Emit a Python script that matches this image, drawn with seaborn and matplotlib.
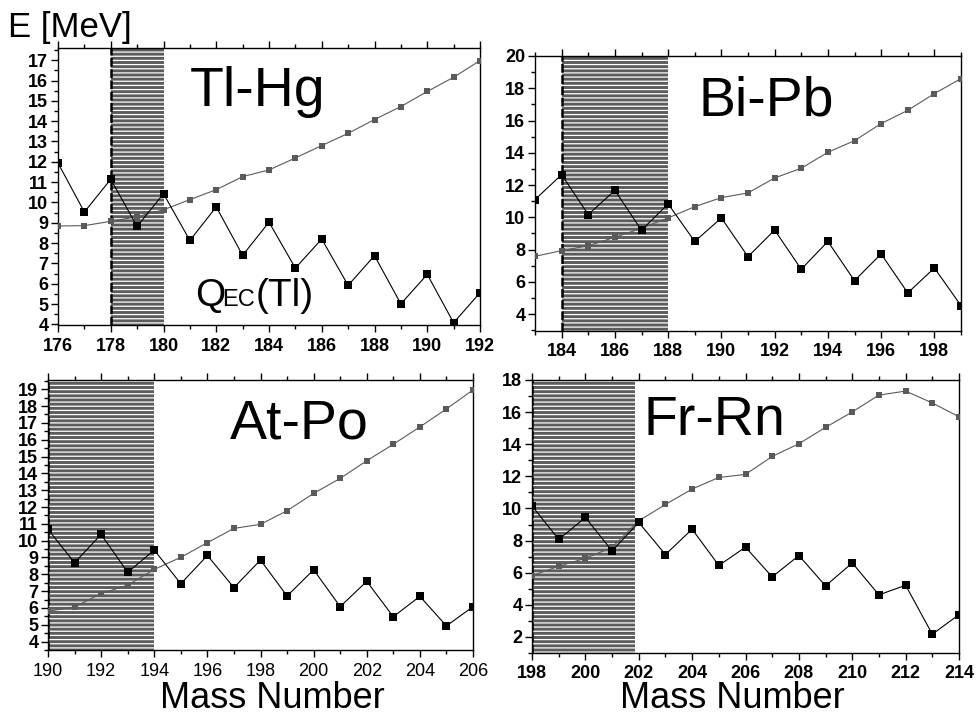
import pandas as pd
import seaborn as sns
import matplotlib.pyplot as plt
from matplotlib.ticker import MultipleLocator

sns.set_style("ticks")
plt.rcParams['font.family'] = ['Liberation Sans', 'DejaVu Sans']
plt.rcParams['hatch.linewidth'] = 0.9
plt.rcParams['text.color'] = 'black'
plt.rcParams['xtick.color'] = 'black'
plt.rcParams['ytick.color'] = 'black'

# mass numbers per chain
mass_tlhg = list(range(176, 193))
mass_bipb = list(range(183, 200))
mass_atpo = list(range(190, 207))
mass_frrn = list(range(198, 215))

# QEC of the odd element (black) and second curve (gray), MeV
qec_tl = [11.94, 9.53, 11.14, 8.82, 10.43, 8.13, 9.78, 7.40, 9.03, 6.77, 8.20, 5.92, 7.38, 5.01, 6.46, 4.08, 5.56]
e_hg = [8.84, 8.86, 9.07, 9.30, 9.64, 10.14, 10.63, 11.27, 11.60, 12.19, 12.80, 13.40, 14.08, 14.72, 15.46, 16.16, 16.98]

qec_bi = [11.10, 12.64, 10.17, 11.67, 9.20, 10.83, 8.50, 9.96, 7.56, 9.21, 6.78, 8.50, 6.07, 7.73, 5.31, 6.86, 4.52]
e_pb = [7.58, 7.93, 8.24, 8.76, 9.32, 9.96, 10.66, 11.22, 11.51, 12.44, 13.04, 14.03, 14.75, 15.81, 16.63, 17.67, 18.60]

qec_at = [10.67, 8.69, 10.37, 8.12, 9.44, 7.44, 9.12, 7.21, 8.85, 6.71, 8.27, 6.08, 7.58, 5.48, 6.69, 4.93, 6.08]
e_po = [5.80, 6.06, 6.85, 7.36, 8.29, 9.01, 9.88, 10.73, 10.97, 11.78, 12.81, 13.70, 14.75, 15.73, 16.76, 17.83, 18.96]

qec_fr = [10.17, 8.07, 9.44, 7.36, 9.13, 7.13, 8.71, 6.45, 7.59, 5.74, 7.07, 5.18, 6.61, 4.62, 5.22, 2.17, 3.39]
e_rn = [5.82, 6.40, 6.90, 7.57, 9.23, 10.25, 11.21, 11.93, 12.12, 13.24, 14.03, 15.05, 16.01, 17.06, 17.31, 16.57, 15.71]

names = ["Tl-Hg", "Bi-Pb", "At-Po", "Fr-Rn"]
masses = [mass_tlhg, mass_bipb, mass_atpo, mass_frrn]
black_vals = [qec_tl, qec_bi, qec_at, qec_fr]
gray_vals = [e_hg, e_pb, e_po, e_rn]
shaded = [(178, 180), (184, 188), (190, 194), (198, 201.85)]

W, H = 979, 715
fig = plt.figure(figsize=(W / 100, H / 100), dpi=100)

# axes boxes in pixels: left, top, right, bottom
boxes = [(58, 48, 480, 325), (535, 56, 961, 331), (48, 380, 473, 650), (532, 380, 959, 653)]
xlims = [(176, 192), (183, 199), (190, 206), (198, 214)]
ylims = [(3.97, 17.6), (2.95, 20), (3.5, 19.55), (1, 18)]
ymajor = [1, 2, 1, 2]
name_pos = [(0.313, 0.79), (0.383, 0.785), (0.428, 0.785), (0.26, 0.80)]

for i in range(4):
    l, t, r, b = boxes[i]
    ax = fig.add_axes([l / W, (H - b) / H, (r - l) / W, (b - t) / H])
    df = pd.DataFrame({"A": masses[i], "q": black_vals[i], "e": gray_vals[i]})

    x0, x1 = shaded[i]
    ax.axvspan(x0, x1, ymin=0, ymax=0.995, facecolor="#5c5c5c", edgecolor="white",
               hatch="----", lw=0, zorder=0)
    ax.axvline(x0, color="black", lw=1.8, ls=(0, (3.5, 1.0)), zorder=1)

    sns.lineplot(data=df, x="A", y="e", ax=ax, color="#5a5a5a", lw=0.8,
                 marker="s", markersize=4.8, markeredgewidth=0, zorder=3)
    sns.lineplot(data=df, x="A", y="q", ax=ax, color="black", lw=0.8,
                 marker="s", markersize=6, markeredgewidth=0, zorder=4)

    ax.set_xlim(*xlims[i])
    ax.set_ylim(*ylims[i])
    ax.xaxis.set_major_locator(MultipleLocator(2))
    ax.xaxis.set_minor_locator(MultipleLocator(1))
    ax.yaxis.set_major_locator(MultipleLocator(ymajor[i]))
    ax.yaxis.set_minor_locator(MultipleLocator(ymajor[i] / 2))
    ax.set_xlabel("")
    ax.set_ylabel("")
    for s in ax.spines.values():
        s.set_visible(True)
        s.set_linewidth(1.0)
        s.set_color("black")
    ax.tick_params(which="both", direction="out", top=True, bottom=True, left=True,
                   width=1.0, color="black", pad=2)
    ax.tick_params(which="major", length=5)
    ax.tick_params(which="minor", length=3)
    ax.tick_params(axis="y", labelsize=13)
    ax.tick_params(axis="x", labelsize=13, pad=4)
    for lab in ax.get_yticklabels():
        lab.set_fontweight("bold")
    if i != 2:
        for lab in ax.get_xticklabels():
            lab.set_fontweight("bold")
    ax.grid(False)

    ax.text(name_pos[i][0], name_pos[i][1], names[i], transform=ax.transAxes,
            fontsize=40, va="baseline", ha="left")

    if i == 0:
        ax.text(0.325, 0.069, "Q", transform=ax.transAxes, fontsize=28, va="baseline")
        ax.text(0.39, 0.069, "EC", transform=ax.transAxes, fontsize=17, va="baseline")
        ax.text(0.469, 0.069, "(Tl)", transform=ax.transAxes, fontsize=28, va="baseline")

fig.text(8 / W, 1 - 37 / H, "E [MeV]", fontsize=25, va="baseline", ha="left")
fig.text(272 / W, 1 - 708 / H, "Mass Number", fontsize=26, va="baseline", ha="center")
fig.text(732 / W, 1 - 708 / H, "Mass Number", fontsize=26, va="baseline", ha="center")

fig.savefig("out.png", dpi=100)
